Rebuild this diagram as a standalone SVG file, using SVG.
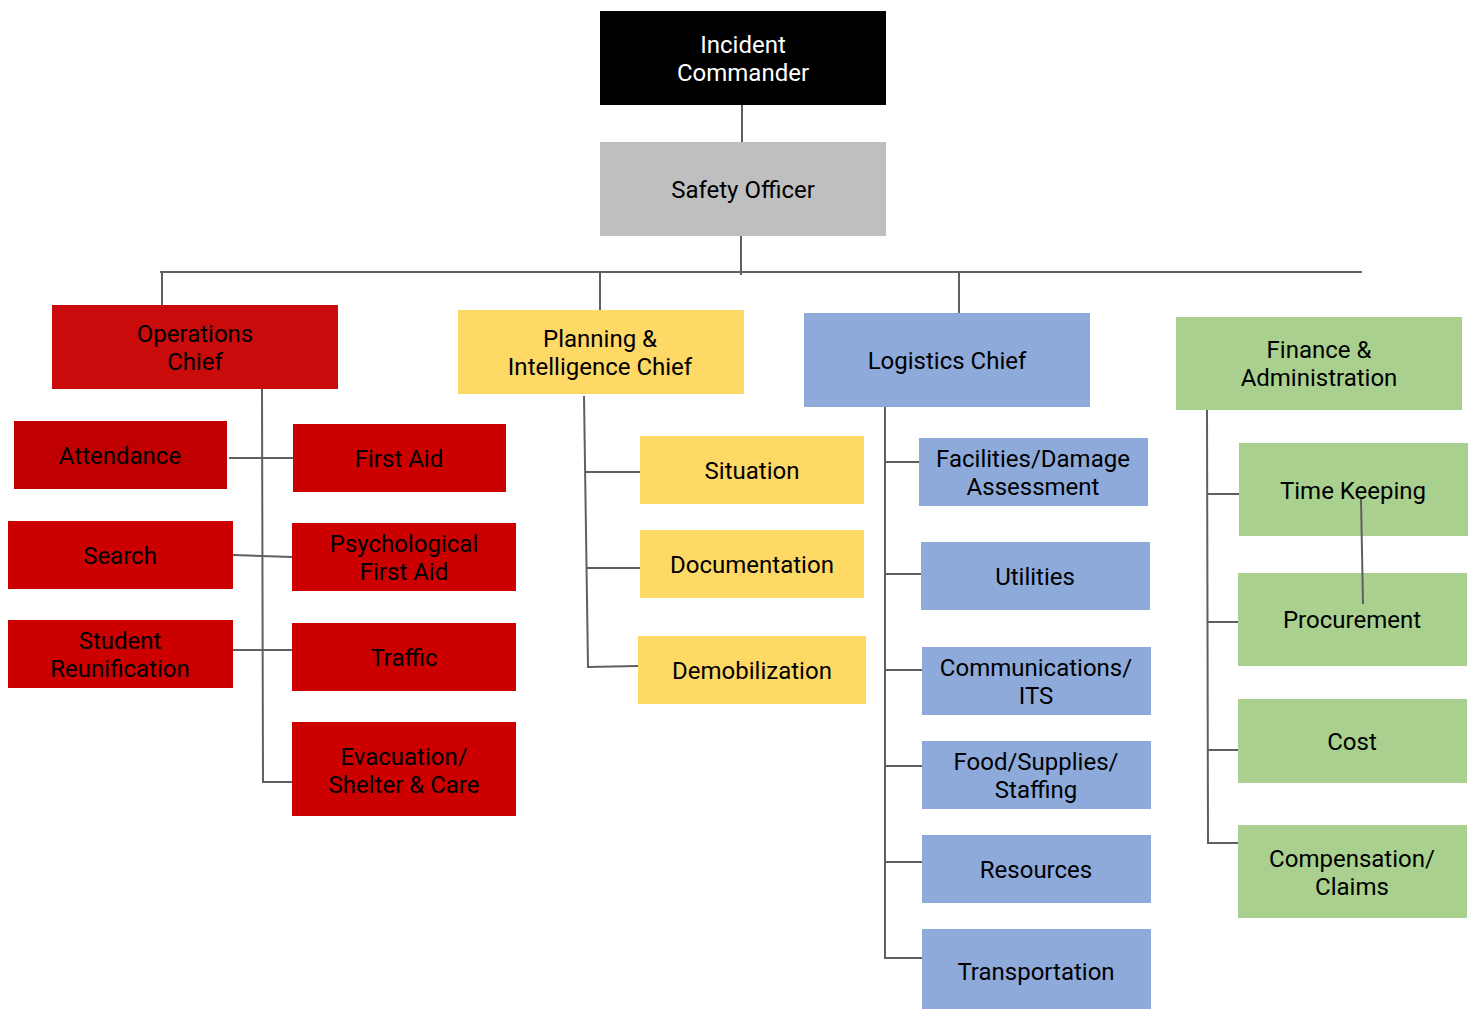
<svg xmlns="http://www.w3.org/2000/svg" width="1476" height="1009" viewBox="0 0 1476 1009">
<style>
text{font-family:Roboto,"Liberation Sans",sans-serif;font-size:24px;fill:#000;text-anchor:middle}
.w{fill:#fff}
.red{fill:#cc0000}
.yel{fill:#ffd966}
.blu{fill:#8eaadb}
.grn{fill:#a9d08e}
#connectors path{stroke:#5f5f5f;stroke-width:2;fill:none}
</style>
<rect width="1476" height="1009" fill="#fff"/>
<g id="connectors">
<path d="M742 105V142"/>
<path d="M741 236V275"/>
<path d="M160 272H1362"/>
<path d="M162 272V305"/>
<path d="M600 272V310"/>
<path d="M959 272V313"/>
<path d="M262 389L263 782H292"/>
<path d="M229 458H293"/>
<path d="M233 555L292 557"/>
<path d="M231 650H292"/>
<path d="M584 396L588 667L638 666"/>
<path d="M585 472H640"/>
<path d="M586 568H640"/>
<path d="M885 407V958H922"/>
<path d="M885 462H919"/>
<path d="M885 574H921"/>
<path d="M885 670H922"/>
<path d="M885 766H922"/>
<path d="M885 862H922"/>
<path d="M1207 410L1208 843H1238"/>
<path d="M1207 494H1242"/>
<path d="M1207 622H1242"/>
<path d="M1207 750H1242"/>
</g>
<g id="incident-commander"><rect x="600" y="11" width="286" height="94" fill="#000"/><text class="w" x="743" y="53">Incident</text><text class="w" x="743" y="81">Commander</text></g>
<g id="safety-officer"><rect x="600" y="142" width="286" height="94" fill="#bfbfbf"/><text x="743" y="198">Safety Officer</text></g>
<g id="operations-chief"><rect x="52" y="305" width="286" height="84" fill="#c90b0b"/><text x="195" y="342">Operations</text><text x="195" y="370">Chief</text></g>
<g id="attendance"><rect x="14" y="421" width="213" height="68" fill="#c00000"/><text x="120" y="464">Attendance</text></g>
<g id="first-aid"><rect class="red" x="293" y="424" width="213" height="68"/><text x="399" y="467">First Aid</text></g>
<g id="search"><rect class="red" x="8" y="521" width="225" height="68"/><text x="120" y="564">Search</text></g>
<g id="psychological-first-aid"><rect class="red" x="292" y="523" width="224" height="68"/><text x="404" y="552">Psychological</text><text x="404" y="580">First Aid</text></g>
<g id="student-reunification"><rect class="red" x="8" y="620" width="225" height="68"/><text x="120" y="649">Student</text><text x="120" y="677">Reunification</text></g>
<g id="traffic"><rect class="red" x="292" y="623" width="224" height="68"/><text x="404" y="666">Traffic</text></g>
<g id="evacuation"><rect class="red" x="292" y="722" width="224" height="94"/><text x="404" y="765">Evacuation/</text><text x="404" y="793">Shelter &amp; Care</text></g>
<g id="planning-chief"><rect class="yel" x="458" y="310" width="286" height="84"/><text x="600" y="347">Planning &amp;</text><text x="600" y="375">Intelligence Chief</text></g>
<g id="situation"><rect class="yel" x="640" y="436" width="224" height="68"/><text x="752" y="479">Situation</text></g>
<g id="documentation"><rect class="yel" x="640" y="530" width="224" height="68"/><text x="752" y="573">Documentation</text></g>
<g id="demobilization"><rect class="yel" x="638" y="636" width="228" height="68"/><text x="752" y="679">Demobilization</text></g>
<g id="logistics-chief"><rect class="blu" x="804" y="313" width="286" height="94"/><text x="947" y="369">Logistics Chief</text></g>
<g id="facilities"><rect class="blu" x="919" y="438" width="229" height="68"/><text x="1033" y="467">Facilities/Damage</text><text x="1033" y="495">Assessment</text></g>
<g id="utilities"><rect class="blu" x="921" y="542" width="229" height="68"/><text x="1035" y="585">Utilities</text></g>
<g id="communications"><rect class="blu" x="922" y="647" width="229" height="68"/><text x="1036" y="676">Communications/</text><text x="1036" y="704">ITS</text></g>
<g id="food-supplies"><rect class="blu" x="922" y="741" width="229" height="68"/><text x="1036" y="770">Food/Supplies/</text><text x="1036" y="798">Staffing</text></g>
<g id="resources"><rect class="blu" x="922" y="835" width="229" height="68"/><text x="1036" y="878">Resources</text></g>
<g id="transportation"><rect class="blu" x="922" y="929" width="229" height="80"/><text x="1036" y="980">Transportation</text></g>
<g id="finance"><rect class="grn" x="1176" y="317" width="286" height="93"/><text x="1319" y="358">Finance &amp;</text><text x="1319" y="386">Administration</text></g>
<g id="time-keeping"><rect class="grn" x="1239" y="443" width="229" height="93"/><text x="1353" y="499">Time Keeping</text></g>
<g id="procurement"><rect class="grn" x="1238" y="573" width="229" height="93"/><text x="1352" y="628">Procurement</text></g>
<g id="cost"><rect class="grn" x="1238" y="699" width="229" height="84"/><text x="1352" y="750">Cost</text></g>
<g id="compensation"><rect class="grn" x="1238" y="825" width="229" height="93"/><text x="1352" y="867">Compensation/</text><text x="1352" y="895">Claims</text></g>
<path id="stray-line" d="M1361 499L1363 604" stroke="#5f5f5f" stroke-width="2" fill="none"/>
</svg>
